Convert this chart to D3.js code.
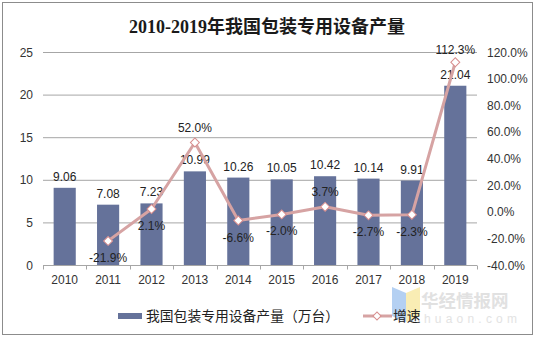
<!DOCTYPE html>
<html><head><meta charset="utf-8">
<script src="https://cdn.jsdelivr.net/npm/d3@7"></script>
<style>body{margin:0;background:#fff}svg{display:block}</style>
</head><body>
<svg id="c" width="535" height="338"></svg>
<script>
const years = ["2010","2011","2012","2013","2014","2015","2016","2017","2018","2019"];
const output = [9.06,7.08,7.23,10.99,10.26,10.05,10.42,10.14,9.91,21.04];
const growth = [null,-21.9,2.1,52.0,-6.6,-2.0,3.7,-2.7,-2.3,112.3];
const growthAbove = [false,false,false,true,false,false,true,false,false,true];
const leftTicks = [0,5,10,15,20,25];
const rightTicks = [-40,-20,0,20,40,60,80,100,120];
const title = "2010-2019年我国包装专用设备产量";
const legendBar = "我国包装专用设备产量（万台）";
const legendLine = "增速";

const svg = d3.select("#c");
const font = "'Liberation Sans', Arial, 'Noto Sans CJK SC', sans-serif";
const barColor = "#65729A", lineColor = "#D6A3A3";

svg.append("rect").attr("x",2.5).attr("y",2.5).attr("width",530).attr("height",332)
  .attr("fill","#fff").attr("stroke","#8c8c8c").attr("stroke-width",1);

// watermark
const wm = svg.append("g").attr("opacity",0.85);
wm.append("path").attr("d","M392,287 L406,293 L406,322 L392,316 Z").attr("fill","#a8c8f0");
wm.append("path").attr("d","M406,293 L420,287 L420,316 L406,322 Z").attr("fill","#f8eaa8");
wm.append("text").attr("x",421).attr("y",307).attr("font-family","'Noto Sans CJK SC', sans-serif")
  .attr("font-size",17.5).attr("font-weight","bold").attr("fill","#dcdcdc").text("华经情报网");
wm.append("text").attr("x",424).attr("y",323).attr("font-family",font)
  .attr("font-size",12).attr("letter-spacing",4.2).attr("fill","#dedede").text("huaon.com");

const x = d3.scaleBand().domain(years).range([43,477]).paddingInner(0.49).paddingOuter(0.245);
const xb = d3.scaleBand().domain(years).range([43,477]);
const y = d3.scaleLinear().domain([0,25]).range([265,52]);
const y2 = d3.scaleLinear().domain([-40,120]).range([265,52]);

// gridlines
svg.append("g").selectAll("line").data(leftTicks.slice(1)).join("line")
  .attr("x1",43).attr("x2",477).attr("y1",d=>y(d)+0.5).attr("y2",d=>y(d)+0.5)
  .attr("stroke","#a6a6a6").attr("stroke-width",1);

// left axis labels
svg.append("g").selectAll("text").data(leftTicks).join("text")
  .attr("x",33).attr("y",d=>y(d)+4.5).attr("text-anchor","end")
  .attr("font-family",font).attr("font-size",12).attr("fill","#333").text(d=>d);

// right axis labels
svg.append("g").selectAll("text").data(rightTicks).join("text")
  .attr("x",487).attr("y",d=>y2(d)+4.5).attr("text-anchor","start")
  .attr("font-family",font).attr("font-size",12).attr("fill","#333").text(d=>d.toFixed(1)+"%");

// bars
svg.append("g").selectAll("rect").data(years).join("rect")
  .attr("x",(d)=>x(d)).attr("width",x.bandwidth())
  .attr("y",(d,i)=>y(output[i])).attr("height",(d,i)=>y(0)-y(output[i]))
  .attr("fill",barColor);

// x axis
const xAxis = svg.append("g").attr("transform","translate(0,265.5)");
xAxis.append("line").attr("x1",43).attr("x2",477).attr("stroke","#a6a6a6");
const bounds = years.map(d=>xb(d)).concat([477]);
xAxis.selectAll("line.t").data(bounds).join("line").attr("class","t")
  .attr("x1",d=>Math.round(d)+0.5).attr("x2",d=>Math.round(d)+0.5).attr("y1",0).attr("y2",4)
  .attr("stroke","#a6a6a6");
xAxis.selectAll("text").data(years).join("text")
  .attr("x",d=>xb(d)+xb.bandwidth()/2).attr("y",18).attr("text-anchor","middle")
  .attr("font-family",font).attr("font-size",12).attr("fill","#333").text(d=>d);

// bar labels
svg.append("g").selectAll("text").data(years).join("text")
  .attr("x",d=>xb(d)+xb.bandwidth()/2).attr("y",(d,i)=>y(output[i])-7)
  .attr("text-anchor","middle").attr("font-family",font).attr("font-size",12).attr("fill","#222")
  .text((d,i)=>output[i].toFixed(2));

// line
const pts = years.map((d,i)=>({yr:d,v:growth[i],above:growthAbove[i]})).filter(p=>p.v!==null);
const line = d3.line().x(p=>xb(p.yr)+xb.bandwidth()/2).y(p=>y2(p.v));
svg.append("path").datum(pts).attr("d",line).attr("fill","none")
  .attr("stroke",lineColor).attr("stroke-width",3).attr("stroke-linejoin","round");
svg.append("g").selectAll("path").data(pts).join("path")
  .attr("d",d3.symbol().type(d3.symbolSquare).size(40)())
  .attr("transform",p=>`translate(${xb(p.yr)+xb.bandwidth()/2},${y2(p.v)}) rotate(45)`)
  .attr("fill","#fff").attr("stroke","#D88E8E").attr("stroke-width",1);

// growth labels
svg.append("g").selectAll("text").data(pts).join("text")
  .attr("x",p=>xb(p.yr)+xb.bandwidth()/2)
  .attr("y",p=>p.above ? y2(p.v)-(p.v>100?8:11) : y2(p.v)+21)
  .attr("text-anchor","middle").attr("font-family",font).attr("font-size",12).attr("fill","#222")
  .text(p=>p.v.toFixed(1)+"%");

// title
svg.append("text").attr("x",267).attr("y",33).attr("text-anchor","middle")
  .attr("font-family","'Liberation Serif','DejaVu Serif','Noto Sans CJK SC',serif")
  .attr("font-size",18).attr("font-weight","bold").attr("fill","#1a1a1a").text(title);

// legend
const lg = svg.append("g");
lg.append("rect").attr("x",118).attr("y",313).attr("width",24).attr("height",6).attr("fill",barColor);
lg.append("text").attr("x",146).attr("y",321).attr("font-family","'Noto Sans CJK SC',"+font)
  .attr("font-size",13.8).attr("fill","#222").text(legendBar);
lg.append("line").attr("x1",363).attr("x2",392).attr("y1",316).attr("y2",316)
  .attr("stroke",lineColor).attr("stroke-width",3);
lg.append("path").attr("d",d3.symbol().type(d3.symbolSquare).size(32)())
  .attr("transform","translate(377,316) rotate(45)").attr("fill","#fff").attr("stroke","#D88E8E");
lg.append("text").attr("x",393).attr("y",321).attr("font-family","'Noto Sans CJK SC',"+font)
  .attr("font-size",13.8).attr("fill","#222").text(legendLine);
</script>
</body></html>
